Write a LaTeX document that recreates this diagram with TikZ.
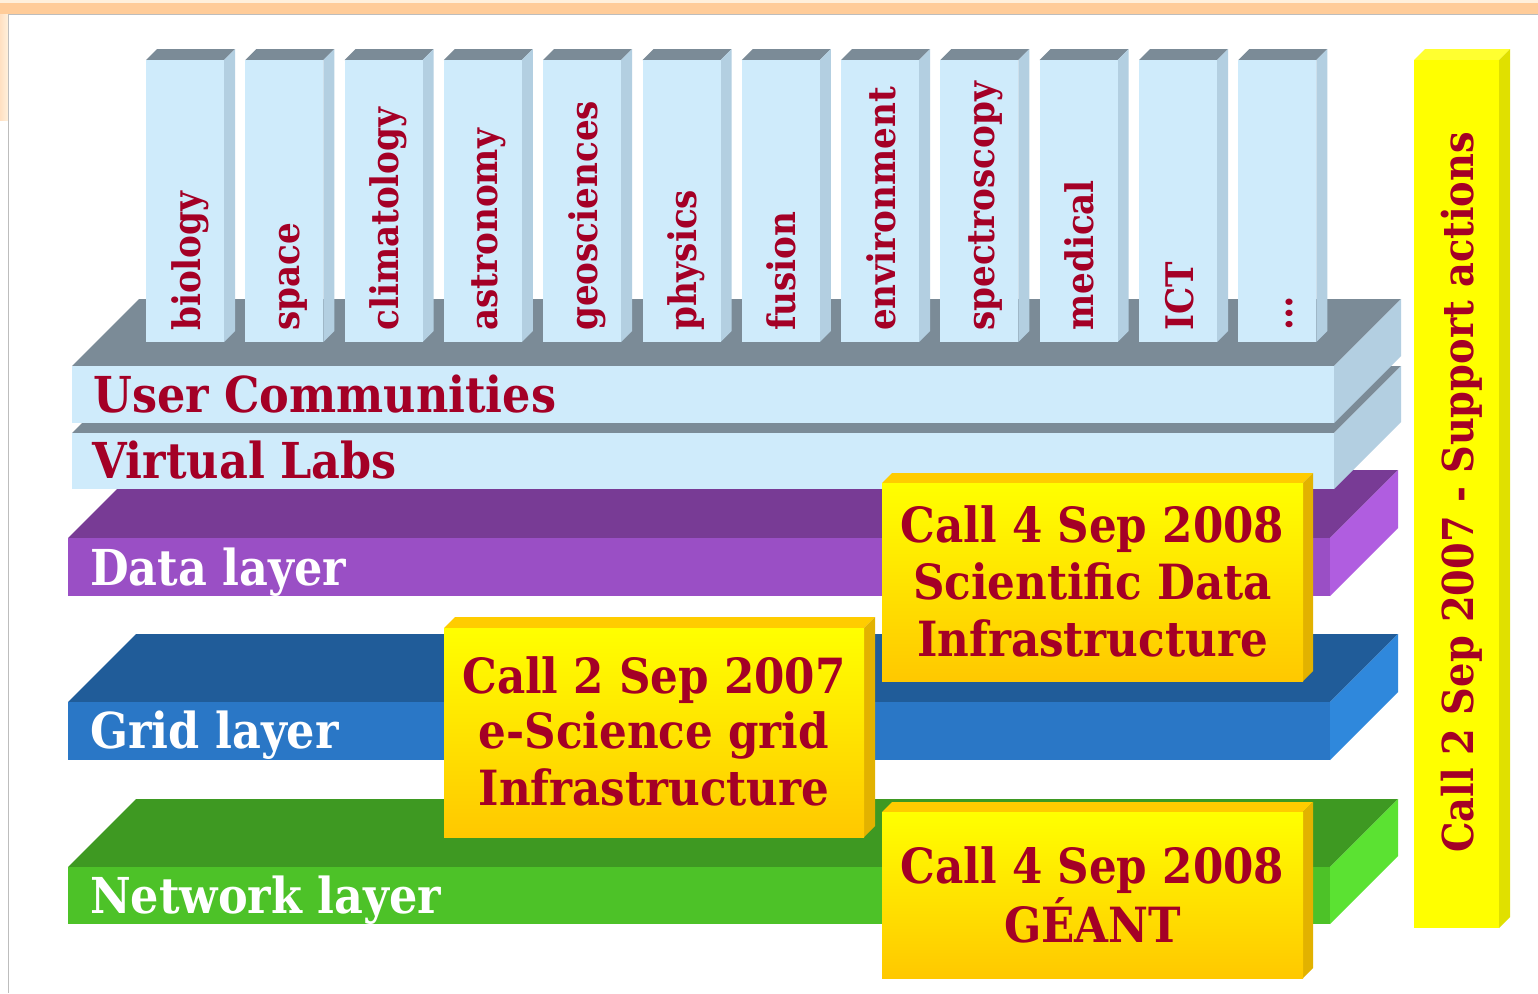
\documentclass[tikz,border=0pt]{standalone}
\usepackage{fontspec}
\newfontfamily\gfont{DejaVu Serif Condensed}

\definecolor{textred}{HTML}{A40026}
\definecolor{ucfront}{HTML}{CFEBFB}
\definecolor{ucside}{HTML}{B3CFE1}
\definecolor{uctop}{HTML}{7B8B97}
\definecolor{datafront}{HTML}{9A4FC5}
\definecolor{datatop}{HTML}{783B95}
\definecolor{dataside}{HTML}{B05DE0}
\definecolor{gridfront}{HTML}{2A77C6}
\definecolor{gridtop}{HTML}{205C99}
\definecolor{gridside}{HTML}{2F88DC}
\definecolor{netfront}{HTML}{4DC228}
\definecolor{nettop}{HTML}{3E9922}
\definecolor{netside}{HTML}{5BE232}
\definecolor{callhi}{HTML}{FFFF00}
\definecolor{calllo}{HTML}{FFC800}
\definecolor{calltop}{HTML}{FFCC00}
\definecolor{callside}{HTML}{E2B200}
\definecolor{barfront}{HTML}{FFFF00}
\definecolor{barside}{HTML}{E0E000}
\definecolor{bartop}{HTML}{FFFF30}
\definecolor{frameorange}{HTML}{FFCC99}
\definecolor{framepale}{HTML}{FFF0DC}
\definecolor{frameline}{HTML}{BDBDBD}

% a block seen from the front-right: front face (x1,y1)-(x2,y2),
% receding by #5 up and to the right
\newcommand\solidblock[8]{%
  \fill[#7] (#1,#2) -- (#1+#5,#2-#5) -- (#3+#5,#2-#5) -- (#3,#2) -- cycle;
  \fill[#8] (#3,#2) -- (#3+#5,#2-#5) -- (#3+#5,#4-#5) -- (#3,#4) -- cycle;
  \fill[#6] (#1,#2) rectangle (#3,#4);
}

\tikzset{
  layerlabel/.style={font=\gfont\bfseries\fontsize{49.5}{52}\selectfont, text=white, anchor=base west, inner sep=0pt},
  labslabel/.style={layerlabel, text=textred},
  calltext/.style={font=\gfont\bfseries\fontsize{48.5}{52}\selectfont, text=textred, anchor=base, inner sep=0pt},
  coltext/.style={font=\gfont\bfseries\fontsize{38}{40}\selectfont, text=textred, rotate=90, anchor=base west, inner sep=0pt},
  bartext/.style={font=\gfont\bfseries\fontsize{42.6}{46}\selectfont, text=textred, rotate=90, anchor=base west, inner sep=0pt},
}

\begin{document}
\begin{tikzpicture}[x=1pt,y=-1pt]
\useasboundingbox (0,0) rectangle (1538,993);

% page frame
\fill[white] (0,0) rectangle (1538,993);
\fill[left color=frameorange!60, right color=framepale] (0,0) rectangle (8,120);
\fill[framepale] (0,0) rectangle (1538,3);
\fill[frameorange] (0,3) rectangle (1538,14);
\draw[frameline, line width=1.2pt] (8.5,993) -- (8.5,14.5) -- (1538,14.5);

% layers, back to front
\solidblock{68}{867}{1330}{924}{68}{netfront}{nettop}{netside}
\solidblock{68}{702}{1330}{760}{68}{gridfront}{gridtop}{gridside}
\solidblock{68}{538}{1330}{596}{68}{datafront}{datatop}{dataside}
\solidblock{72}{433}{1334}{489}{67}{ucfront}{uctop}{ucside}
\solidblock{72}{366}{1334}{423}{67}{ucfront}{uctop}{ucside}

\node[layerlabel] (network) at (90,913) {Network layer};
\node[layerlabel] (grid) at (90,748) {Grid layer};
\node[layerlabel] (data) at (90,585) {Data layer};
\node[labslabel] (labs) at (92,478) {Virtual Labs};
\node[labslabel] (users) at (93,412) {User Communities};

% community columns standing on the top slab
\foreach \lab [count=\i from 0] in {biology,space,climatology,astronomy,geosciences,physics,fusion,environment,spectroscopy,medical,ICT,\ldots}{
  \pgfmathsetmacro\xl{146+99.3*\i}
  \solidblock{\xl}{60}{\xl+78}{342}{11}{ucfront}{uctop}{ucside}
  \node[coltext] (col\i) at (\xl+54,331) {\lab};
}

% call boxes
\solidblock{882}{483}{1303}{681}{10}{top color=callhi, bottom color=calllo}{calltop}{callside}
\node[calltext] (sd1) at (1092.5,542) {Call 4 Sep 2008};
\node[calltext] (sd2) at (1092.5,599) {Scientific Data};
\node[calltext] (sd3) at (1092.5,656) {Infrastructure};

\solidblock{444}{628}{864}{837}{11}{top color=callhi, bottom color=calllo}{calltop}{callside}
\node[calltext] (eg1) at (654,693) {Call 2 Sep 2007};
\node[calltext] (eg2) at (654,748) {e-Science grid};
\node[calltext] (eg3) at (654,805) {Infrastructure};

\solidblock{882}{812}{1303}{978}{10}{top color=callhi, bottom color=calllo}{calltop}{callside}
\node[calltext] (ge1) at (1092.5,883) {Call 4 Sep 2008};
\node[calltext] (ge2) at (1092.5,942) {GÉANT};

% support actions bar
\solidblock{1414}{60}{1499}{928}{11}{barfront}{bartop}{barside}
\node[bartext] (support) at (1473,853) {Call 2 Sep 2007 - Support actions};

\end{tikzpicture}
\end{document}
